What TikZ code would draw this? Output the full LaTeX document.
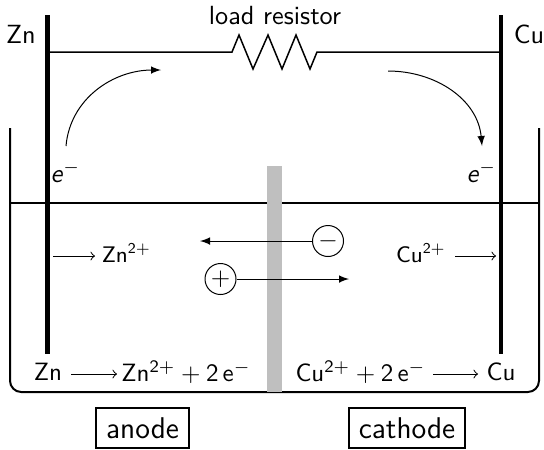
\documentclass[tikz,border=0pt]{standalone}
\usepackage{amsmath}
\usepackage{sansmath}
\sansmath
\renewcommand{\familydefault}{\sfdefault}
\tikzset{
  electrode/.style={black, line width=1.7pt},
  beaker/.style={black, line width=0.8pt},
  wire/.style={black, line width=0.6pt},
  flow/.style={black, line width=0.4pt, -latex},
  react/.style={black, line width=0.4pt, -to},
  biglabel/.style={font=\fontsize{10.5}{12}\selectfont},
  ionlabel/.style={font=\fontsize{9}{11}\selectfont},
  ioncircle/.style={draw, circle, inner sep=0pt, minimum size=12.4pt, line width=0.4pt},
  tag/.style={draw, line width=0.8pt, font=\large, inner sep=0pt, minimum height=16pt},
}
\begin{document}
\begin{tikzpicture}[x=0.4pt, y=-0.4pt]
        \useasboundingbox (0,0) rectangle (544,449);
        % beaker
        \coordinate (beakerL) at (10,128);
        \coordinate (beakerR) at (539,128);
        \coordinate (waterL) at (10,203);
        \coordinate (waterR) at (539,203);
        \draw[beaker, rounded corners=4.5pt] (beakerL) -- (10,392) -- (539,392) -- (beakerR);
        \draw[beaker] (waterL) -- (waterR);
        \fill[black!25] (267,166) rectangle (282,392);
        % electrodes
        \coordinate (znTop) at (47.5,15);
        \coordinate (znBottom) at (47.5,354);
        \coordinate (cuTop) at (501,15);
        \coordinate (cuBottom) at (501,354);
        \draw[electrode] (znTop) -- (znBottom);
        \draw[electrode] (cuTop) -- (cuBottom);
        \node[biglabel] (zn) at (21,34) {Zn};
        \node[biglabel] (cu) at (529,34) {Cu};
        % wire and load
        \coordinate (wireL) at (47.5,52);
        \coordinate (wireR) at (501,52);
        \coordinate (loadL) at (232,52);
        \coordinate (loadR) at (317,52);
        \draw[wire] (wireL) -- (loadL) -- (239,35) -- (253,69) -- (268,35) -- (282,69)
            -- (296,35) -- (310,69) -- (loadR) -- (wireR);
        \node[biglabel] (load) at (275,16) {load resistor};
        % electrons
        \coordinate (eLstart) at (66,146);
        \coordinate (eLend) at (161,70);
        \coordinate (eRstart) at (388,71);
        \coordinate (eRend) at (482,146);
        \draw[flow] (eLstart) to[out=85, in=180] (eLend);
        \draw[flow] (eRstart) to[out=0, in=95] (eRend);
        \node[biglabel] (eL) at (65.5,172) {\textit{e}$^-$};
        \node[biglabel] (eR) at (481.5,172) {\textit{e}$^-$};
        % ions
        \node[ioncircle] (minus) at (328,241) {$-$};
        \node[ioncircle] (plus) at (220.5,279) {$+$};
        \coordinate (minusEnd) at (200,241);
        \coordinate (plusEnd) at (349,279);
        \draw[flow] (minus) -- (minusEnd);
        \draw[flow] (plus) -- (plusEnd);
        \node[ionlabel] (znIon) at (126.5,253) {Zn$^{\text{2}+}$};
        \node[ionlabel] (cuIon) at (421,253) {Cu$^{\text{2}+}$};
        \coordinate (znIonA) at (53,256);
        \coordinate (znIonB) at (95,256);
        \coordinate (cuIonA) at (455,256);
        \coordinate (cuIonB) at (496,256);
        \draw[react] (znIonA) -- (znIonB);
        \draw[react] (cuIonA) -- (cuIonB);
        % reactions
        \node (znLeft) at (48,372) {Zn};
        \node (znRight) at (186,372) {Zn$^{\text{2}+}+\text{2}\,$e$^-$};
        \node (cuLeft) at (360.5,372) {Cu$^{\text{2}+}+\text{2}\,$e$^-$};
        \node (cuRight) at (501,372) {Cu};
        \coordinate (znReactA) at (71,374);
        \coordinate (znReactB) at (117,374);
        \coordinate (cuReactA) at (433,374);
        \coordinate (cuReactB) at (478,374);
        \draw[react] (znReactA) -- (znReactB);
        \draw[react] (cuReactA) -- (cuReactB);
        \node[tag, minimum width=37pt] (anode) at (142.5,428) {anode};
        \node[tag, minimum width=46.4pt] (cathode) at (407,428) {cathode};
    \end{tikzpicture}
\end{document}
